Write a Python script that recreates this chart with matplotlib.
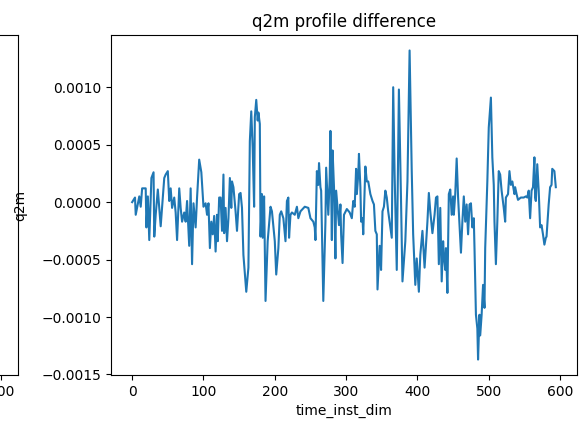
import matplotlib
matplotlib.use("Agg")
import matplotlib.pyplot as plt
import numpy as np

# time index and q2m difference (values in units of 1e-5)
time_inst_dim = [
    0, 4, 5, 10, 12, 14, 19, 20, 22, 24, 27, 30, 31, 33, 36, 40, 45, 47, 50, 52,
    54, 56, 59, 61, 63, 66, 68, 70, 73, 75, 77, 80, 82, 84, 86, 89, 91, 94, 97, 100,
    103, 105, 107, 109, 111, 113, 115, 117, 119, 120, 122, 124, 126, 128, 129, 131, 133, 135, 137, 139,
    140, 142, 145, 147, 150, 152, 154, 156, 160, 163, 165, 167, 169, 171, 172, 174, 176, 177, 179, 180,
    182, 183, 185, 187, 190, 194, 196, 200, 202, 205, 207, 209, 212, 215, 217, 219, 220, 222, 224, 228,
    231, 233, 236, 242, 247, 250, 254, 256, 257, 259, 261, 262, 264, 265, 268, 271, 272, 275, 277, 278,
    280, 281, 283, 285, 286, 288, 290, 292, 293, 295, 297, 301, 305, 308, 310, 312, 314, 315, 317, 318,
    320, 321, 323, 324, 327, 329, 331, 334, 337, 339, 341, 343, 344, 347, 349, 351, 353, 355, 357, 359,
    362, 364, 366, 368, 371, 374, 377, 379, 383, 386, 389, 392, 394, 397, 399, 402, 404, 407, 410, 414,
    416, 418, 421, 424, 426, 428, 430, 432, 434, 436, 437, 439, 440, 442, 444, 446, 448, 450, 451, 453,
    455, 457, 459, 461, 463, 465, 467, 469, 471, 473, 475, 477, 479, 480, 482, 484, 485, 487, 488, 490,
    492, 494, 495, 498, 500, 503, 505, 507, 508, 510, 512, 514, 516, 518, 521, 523, 524, 527, 529, 531,
    533, 536, 537, 539, 541, 545, 549, 552, 554, 556, 558, 560, 562, 564, 565, 566, 568, 570, 572, 574,
    576, 578, 580, 581, 584, 586, 588, 589, 592, 594,
]
q2m_diff = [
    0, 4, -11, 5, -4, 12, 12, -22, 5, -33, 21, 26, -30, -11, 11, -21, 21, 24, 27, 1,
    12, -5, 4, -9, -33, 12, -5, -17, -9, -17, 1, -38, 12, -54, -1, -22, 4, 37, 26, -4,
    -1, -11, -1, -40, -17, -28, -12, -43, -11, -34, 4, 4, -25, 24, -27, -5, -34, -14, 21, -5,
    18, 13, -8, -25, 7, 8, -5, -46, -78, -57, 53, 79, 47, -4, 74, 89, 71, 78, 68, -30,
    7, -31, 5, -86, -34, -4, -8, -34, -63, -40, -11, -8, -14, -34, 1, 4, -31, -11, -9, -11,
    -4, -14, -8, -4, -5, -14, -17, -22, -33, 27, 15, 34, 13, 10, -86, -17, 30, -11, 21, 62,
    -33, 45, 13, -49, 10, -5, -20, -2, -28, -53, -11, -6, -9, -14, 1, -4, 29, 7, 24, 42,
    13, -17, -14, -28, 31, 18, 18, 7, 1, -2, -25, -28, -76, -38, -59, -8, -4, 10, 4, -8,
    -22, -31, 100, 24, -59, 98, 1, -69, -34, 18, 132, 27, -28, -72, -49, -78, -46, -25, -57, -17,
    8, -8, -27, -11, 4, 5, -54, -5, -69, -34, -46, -59, -40, -79, 7, 11, -11, 5, -11, 7,
    38, 4, -20, -44, -17, 5, -17, -2, -28, -2, -1, -22, -14, -40, -98, -110, -137, -98, -116, -98,
    -72, -92, -40, 18, 65, 91, 39, 15, -17, -54, -17, 27, 24, 10, -5, -17, 4, 7, 27, 15,
    18, 7, 13, 7, 2, 4, 4, 5, 4, 10, -14, 10, 13, 39, 4, 1, 33, 10, -22, -20,
    -28, -37, -31, -30, -2, 13, 15, 29, 27, 13,
]

t = np.array(time_inst_dim)
q = np.array(q2m_diff) * 1e-5

fig = plt.figure(figsize=(5.81, 4.28), dpi=100)

# right-hand panel of a wider figure; only the edge of the left panel is visible
ax_left = fig.add_axes([-0.7711, 0.1238, 0.8021, 0.7944])
ax = fig.add_axes([0.1910, 0.1238, 0.8021, 0.7944])

ax.plot(t, q)
ax.set_title('q2m profile difference')
ax.set_xlabel('time_inst_dim')
ax.set_ylabel('q2m', labelpad=10)
ax.set_xticks([0, 100, 200, 300, 400, 500, 600])
ax.set_yticks([0.0010, 0.0005, 0.0, -0.0005, -0.0010, -0.0015])

ax_left.set_xlim(ax.get_xlim())
ax_left.set_xticks([0, 100, 200, 300, 400, 500, 600])
ax_left.set_yticks([])

fig.savefig('out.png', dpi=100)
